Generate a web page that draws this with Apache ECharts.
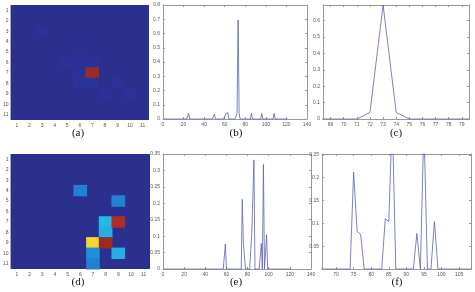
<!DOCTYPE html>
<html>
<head>
<meta charset="utf-8">
<script src="https://cdn.jsdelivr.net/npm/echarts@6/dist/echarts.min.js"></script>
<style>
html, body { margin: 0; padding: 0; background: #fff; }
#main { width: 475px; height: 292px; }
</style>
</head>
<body>
<div id="main"></div>
<script>
// cell labels of the 11x11 maps
var cellLabels = ['1', '2', '3', '4', '5', '6', '7', '8', '9', '10', '11'];

// non-zero entries of the column-major flattened maps: [index, value]
var topPeaks = [[25, 0.04], [50, 0.035], [60, 0.02], [61, 0.035], [62, 0.04], [63, 0.045],
    [72, 0.04], [73, 0.695], [74, 0.04], [86, 0.04], [96, 0.04], [108, 0.04]];
var bottomPeaks = [[59, 0.076], [75, 0.212], [76, 0.082], [77, 0.076], [84, 0.11], [85, 0.104],
    [86, 0.332], [93, 0.078], [95, 0.318], [98, 0.104]];

// tick labels
var wideTicks = [0, 20, 40, 60, 80, 100, 120, 140];
var cTicksX = [69, 70, 71, 72, 73, 74, 75, 76, 77, 78, 79];
var cTicksY = [0, 0.1, 0.2, 0.3, 0.4, 0.5, 0.6];
var fTicksX = [70, 75, 80, 85, 90, 95, 100, 105];
var fTicksY = [0.05, 0.1, 0.15, 0.2, 0.25];

var captions = ['(a)', '(b)', '(c)', '(d)', '(e)', '(f)'];

//把峰值展开成整条序列和热力图格子
function lineData(peaks) {
    var vals = [];
    for (var i = 1; i <= 121; i++) vals.push([i, 0]);
    peaks.forEach(function (p) { vals[p[0] - 1][1] = p[1]; });
    return vals;
}
// only the non-zero cells, the zero cells are the grid floor
function heatData(peaks) {
    return peaks.map(function (p) {
        return [Math.floor((p[0] - 1) / 11), (p[0] - 1) % 11, p[1]];
    });
}

var jet = ['#2b2f8e', '#2a36a2', '#1f8fd8', '#2ad0f0', '#8ee08a', '#f0e032', '#ef8a2a', '#d8322a', '#982c24'];
var lblStyle = { fontSize: 5, color: '#555', fontFamily: 'Liberation Sans' };
var lineCol = '#999';

var grids = [
    { left: 7, top: 5, width: 142, height: 115 },
    { left: 163, top: 5, width: 144, height: 114 },
    { left: 323, top: 5, width: 146, height: 114 },
    { left: 7, top: 154, width: 143, height: 115 },
    { left: 163, top: 154, width: 148, height: 115 },
    { left: 322, top: 154, width: 149, height: 115 }
];
[0, 3].forEach(function (g) {
    grids[g].show = true;
    grids[g].backgroundColor = jet[0];
    grids[g].borderWidth = 0;
});

var xAxes = [], yAxes = [];

function heatAxes(g) {
    xAxes.push({
        gridIndex: g, type: 'category', data: cellLabels, position: 'bottom',
        axisLine: { show: false }, axisTick: { show: false },
        splitLine: { show: false }, splitArea: { show: false },
        axisLabel: Object.assign({ margin: 3 }, lblStyle)
    });
    yAxes.push({
        gridIndex: g, type: 'category', data: cellLabels, inverse: true,
        axisLine: { show: false }, axisTick: { show: false },
        splitLine: { show: false }, splitArea: { show: false },
        axisLabel: Object.assign({ margin: 2 }, lblStyle)
    });
    return [xAxes.length - 1, yAxes.length - 1];
}

function boxAxes(g, xr, yr) {
    var xi = xAxes.length, yi = yAxes.length;
    ['bottom', 'top'].forEach(function (pos) {
        xAxes.push({
            gridIndex: g, type: 'value', position: pos, min: xr.min, max: xr.max,
            splitLine: { show: false },
            axisLine: { show: true, onZero: false, lineStyle: { color: lineCol, width: 1 } },
            axisTick: { show: true, inside: true, length: 2, customValues: xr.ticks, lineStyle: { color: lineCol } },
            axisLabel: Object.assign({ show: pos === 'bottom', margin: 3, customValues: xr.ticks }, lblStyle)
        });
    });
    ['left', 'right'].forEach(function (pos) {
        yAxes.push({
            gridIndex: g, type: 'value', position: pos, min: yr.min, max: yr.max,
            splitLine: { show: false },
            axisLine: { show: true, onZero: false, lineStyle: { color: lineCol, width: 1 } },
            axisTick: { show: true, inside: true, length: 2, customValues: yr.ticks, lineStyle: { color: lineCol } },
            axisLabel: Object.assign({ show: pos === 'left', margin: 3, customValues: yr.ticks }, lblStyle)
        });
    });
    return [xi, yi];
}

var aAx = heatAxes(0);
var bAx = boxAxes(1, { min: 0, max: 140, ticks: wideTicks }, { min: 0, max: 0.8, ticks: [0, 0.1, 0.2, 0.3, 0.4, 0.5, 0.6, 0.7, 0.8] });
var cAx = boxAxes(2, { min: 68.42, max: 79.55, ticks: cTicksX }, { min: 0, max: 0.695, ticks: cTicksY });
var dAx = heatAxes(3);
var eAx = boxAxes(4, { min: 0, max: 140, ticks: wideTicks }, { min: 0, max: 0.35, ticks: [0, 0.05, 0.1, 0.15, 0.2, 0.25, 0.3, 0.35] });
var fAx = boxAxes(5, { min: 66, max: 108.4, ticks: fTicksX }, { min: 0, max: 0.252, ticks: fTicksY });

function heatSeries(ax, peaks) {
    return {
        type: 'custom', xAxisIndex: ax[0], yAxisIndex: ax[1], data: heatData(peaks), silent: true,
        encode: { x: 0, y: 1 },
        renderItem: function (params, api) {
            var p = api.coord([api.value(0), api.value(1)]);
            var s = api.size([1, 1]);
            return {
                type: 'rect',
                shape: { x: p[0] - s[0] / 2 - 0.5, y: p[1] - s[1] / 2 - 0.5, width: s[0] + 1, height: s[1] + 1 },
                style: { fill: api.visual('color') }
            };
        }
    };
}

function lineSeries(ax, peaks) {
    return {
        type: 'line', xAxisIndex: ax[0], yAxisIndex: ax[1], data: lineData(peaks),
        showSymbol: false, clip: true, silent: true,
        lineStyle: { color: '#5a62b8', width: 0.8 }
    };
}

var positions = [[78, 128], [236, 128], [396, 128], [78, 277], [236, 277], [397, 277]];

var chart = echarts.init(document.getElementById('main'));
chart.setOption({
    animation: false,
    grid: grids,
    xAxis: xAxes,
    yAxis: yAxes,
    visualMap: [
        { type: 'continuous', show: false, seriesIndex: 0, dimension: 2, min: 0, max: 0.695, inRange: { color: jet } },
        { type: 'continuous', show: false, seriesIndex: 3, dimension: 2, min: 0, max: 0.332, inRange: { color: jet } }
    ],
    series: [
        heatSeries(aAx, topPeaks),
        lineSeries(bAx, topPeaks),
        lineSeries(cAx, topPeaks),
        heatSeries(dAx, bottomPeaks),
        lineSeries(eAx, bottomPeaks),
        lineSeries(fAx, bottomPeaks)
    ],
    graphic: captions.map(function (t, i) {
        return {
            type: 'text', x: positions[i][0], y: positions[i][1],
            style: { text: t, fill: '#111', font: '11px "Liberation Serif"', textAlign: 'center' }
        };
    })
});
</script>
</body>
</html>
